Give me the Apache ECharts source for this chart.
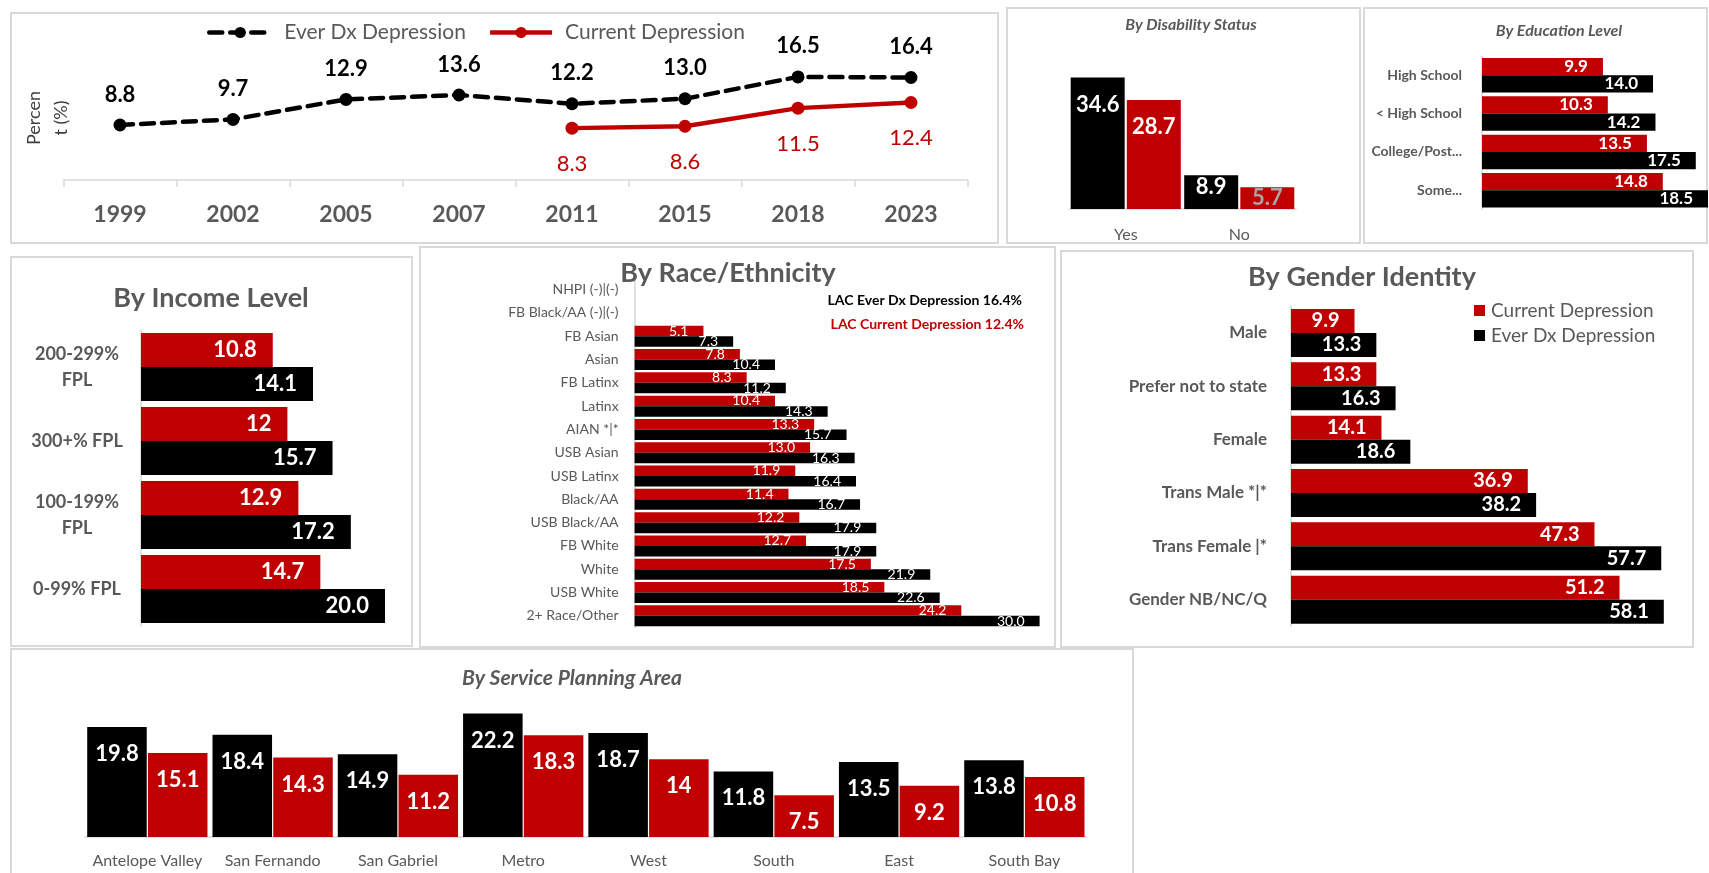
<!DOCTYPE html>
<html>
<head>
<meta charset="utf-8">
<title>Depression Dashboard</title>
<script src="https://cdn.jsdelivr.net/npm/echarts@6/dist/echarts.min.js"></script>
<style>
  html, body { margin: 0; padding: 0; background: #ffffff; }
  #chart { width: 1709px; height: 873px; }
</style>
</head>
<body>
<div id="chart"></div>
<script>
// ---- Data ----
const years = ['1999', '2002', '2005', '2007', '2011', '2015', '2018', '2023'];
const trendEverDx = [8.8, 9.7, 12.9, 13.6, 12.2, 13.0, 16.5, 16.4];
const trendCurrent = [null, null, null, null, 8.3, 8.6, 11.5, 12.4];

const disabilityCats = ['Yes', 'No'];
const disabilityEverDx = [34.6, 8.9];
const disabilityCurrent = [28.7, 5.7];

const educationCats = ['High School', '< High School', 'College/Post...', 'Some...'];
const educationCurrent = [9.9, 10.3, 13.5, 14.8];
const educationEverDx = [14.0, 14.2, 17.5, 18.5];

const incomeCats = ['200-299%\nFPL', '300+% FPL', '100-199%\nFPL', '0-99% FPL'];
const incomeCurrent = [10.8, 12, 12.9, 14.7];
const incomeEverDx = [14.1, 15.7, 17.2, 20.0];

const raceCats = ['NHPI (-)|(-)', 'FB Black/AA (-)|(-)', 'FB Asian', 'Asian', 'FB Latinx', 'Latinx',
  'AIAN *|*', 'USB Asian', 'USB Latinx', 'Black/AA', 'USB Black/AA', 'FB White', 'White',
  'USB White', '2+ Race/Other'];
const raceCurrent = [null, null, 5.1, 7.8, 8.3, 10.4, 13.3, 13.0, 11.9, 11.4, 12.2, 12.7, 17.5, 18.5, 24.2];
const raceEverDx = [null, null, 7.3, 10.4, 11.2, 14.3, 15.7, 16.3, 16.4, 16.7, 17.9, 17.9, 21.9, 22.6, 30.0];

const genderCats = ['Male', 'Prefer not to state', 'Female', 'Trans Male *|*', 'Trans Female |*', 'Gender NB/NC/Q'];
const genderCurrent = [9.9, 13.3, 14.1, 36.9, 47.3, 51.2];
const genderEverDx = [13.3, 16.3, 18.6, 38.2, 57.7, 58.1];

const spaCats = ['Antelope Valley', 'San Fernando', 'San Gabriel', 'Metro', 'West', 'South', 'East', 'South Bay'];
const spaEverDx = [19.8, 18.4, 14.9, 22.2, 18.7, 11.8, 13.5, 13.8];
const spaCurrent = [15.1, 14.3, 11.2, 18.3, 14, 7.5, 9.2, 10.8];

// ---- Styling ----
const RED = '#C00000';
const BLACK = '#000000';
const GRAY_TEXT = '#595959';
const AXIS_GRAY = '#d9d9d9';
const FONT = 'Lato';
const EVER = 'Ever Dx Depression';
const CURR = 'Current Depression';
const EVER_DASH = [13, 8];

const fixed1 = p => Number(p.value).toFixed(1);
const raw = p => String(p.value);

const chart = echarts.init(document.getElementById('chart'), null, { renderer: 'canvas' });

function hiddenValueAxis(gridIndex, max) {
  return { type: 'value', gridIndex, min: 0, max, show: false, splitLine: { show: false } };
}
function barCategoryAxis(gridIndex, data, extra) {
  return Object.assign({
    type: 'category', gridIndex, data,
    axisLine: { show: true, lineStyle: { color: AXIS_GRAY, width: 1.5 } },
    axisTick: { show: false },
    splitLine: { show: false }
  }, extra);
}
function hBar(name, color, xi, data, labelFont, fmt, distance, extra) {
  return Object.assign({
    type: 'bar', name, xAxisIndex: xi, yAxisIndex: xi, data,
    itemStyle: { color },
    label: {
      show: true, position: 'insideRight', distance, color: '#ffffff',
      fontFamily: FONT, fontSize: labelFont.size, fontWeight: labelFont.weight, formatter: fmt
    }
  }, extra);
}

// panel frames
const panels = [
  [11, 13, 987, 230], [1007, 8, 353, 235], [1364, 8, 343, 235],
  [11, 257, 401, 389], [420, 247, 635, 400], [1061, 251, 632, 396], [11, 649, 1122, 240]
];
const graphics = panels.map(p => ({
  type: 'rect', z: 0, silent: true,
  shape: { x: p[0], y: p[1], width: p[2], height: p[3] },
  style: { fill: 'none', stroke: AXIS_GRAY, lineWidth: 2 }
}));

function label(text, x, y, font, fill, align, rotation) {
  return {
    type: 'text', x, y, rotation: rotation || 0, z: 10, silent: true,
    style: {
      text, x: 0, y: 0, font, fill,
      align: align || 'center', textAlign: align || 'center',
      verticalAlign: 'middle', textVerticalAlign: 'middle', lineHeight: 27
    }
  };
}
graphics.push(
  label('Percen\nt (%)', 48, 118, '18px Lato', '#404040', 'center', Math.PI / 2),
  label('By Disability Status', 1191, 25, 'italic bold 16px Lato', GRAY_TEXT),
  label('By Education Level', 1559, 31, 'italic bold 16px Lato', GRAY_TEXT),
  label('By Income Level', 211, 298, 'bold 27px Lato', GRAY_TEXT),
  label('By Race/Ethnicity', 728, 273, 'bold 27px Lato', GRAY_TEXT),
  label('By Gender Identity', 1362, 277, 'bold 27px Lato', GRAY_TEXT),
  label('By Service Planning Area', 572, 678, 'italic bold 21px Lato', GRAY_TEXT),
  label('LAC Ever Dx Depression ' + trendEverDx[trendEverDx.length - 1].toFixed(1) + '%',
    1022, 300, 'bold 14px Lato', BLACK, 'right'),
  label('LAC Current Depression ' + trendCurrent[trendCurrent.length - 1].toFixed(1) + '%',
    1024, 324, 'bold 14px Lato', RED, 'right')
);

const disabilityLabelDistance = [16, 1];

const option = {
  animation: false,
  backgroundColor: '#ffffff',
  textStyle: { fontFamily: FONT },
  graphic: graphics,
  legend: [
    {
      data: [
        { name: EVER, lineStyle: { width: 4.5, type: EVER_DASH, color: BLACK } },
        { name: CURR, lineStyle: { width: 4.5, color: RED } }
      ],
      left: 207, top: 22, padding: 0, itemWidth: 62, itemHeight: 14, itemGap: 22,
      selectedMode: false,
      textStyle: { fontSize: 21, color: GRAY_TEXT, fontFamily: FONT, padding: [0, 0, 0, 8] }
    },
    {
      data: [CURR, EVER], left: 1474, top: 301, padding: 0, orient: 'vertical', icon: 'rect',
      itemWidth: 11, itemHeight: 11, itemGap: 6, selectedMode: false,
      textStyle: { fontSize: 19, color: GRAY_TEXT, fontFamily: FONT, padding: [0, 0, 0, 1] }
    }
  ],
  grid: [
    { left: 63.5, right: 741.5, top: 55, bottom: 693 },     // trend
    { left: 1069, right: 413, top: 57, bottom: 664 },       // disability
    { left: 1482, right: 1, top: 56, bottom: 663.5 },       // education
    { left: 141, right: 1299.6, top: 330, bottom: 247 },    // income
    { left: 634.6, right: 669.4, top: 278, bottom: 245.5 }, // race
    { left: 1291, right: 33, top: 306.3, bottom: 246.7 },   // gender
    { left: 84.7, right: 622, top: 698, bottom: 36 }        // service planning area
  ],
  xAxis: [
    {
      type: 'category', gridIndex: 0, data: years, boundaryGap: true,
      axisLine: { show: true, lineStyle: { color: AXIS_GRAY, width: 1.5 } },
      axisTick: { show: true, length: 7, lineStyle: { color: AXIS_GRAY, width: 1.5 } },
      axisLabel: { color: GRAY_TEXT, fontSize: 23, fontWeight: 'bold', margin: 23, fontFamily: FONT }
    },
    barCategoryAxis(1, disabilityCats, {
      axisLabel: { color: GRAY_TEXT, fontSize: 16, margin: 18, fontFamily: FONT }
    }),
    hiddenValueAxis(2, 18.5),
    hiddenValueAxis(3, 22),
    hiddenValueAxis(4, 30),
    hiddenValueAxis(5, 60),
    barCategoryAxis(6, spaCats, {
      axisLabel: { color: GRAY_TEXT, fontSize: 16, margin: 16, interval: 0, fontFamily: FONT }
    })
  ],
  yAxis: [
    hiddenValueAxis(0, 20),
    hiddenValueAxis(1, 40),
    barCategoryAxis(2, educationCats, {
      inverse: true,
      axisLabel: { color: GRAY_TEXT, fontSize: 14, fontWeight: 'bold', margin: 20, interval: 0, fontFamily: FONT }
    }),
    barCategoryAxis(3, incomeCats, {
      inverse: true,
      axisLabel: { color: GRAY_TEXT, fontSize: 18, fontWeight: 'bold', margin: 64, align: 'center',
        interval: 0, lineHeight: 26, fontFamily: FONT }
    }),
    barCategoryAxis(4, raceCats, {
      inverse: true,
      axisLabel: { color: GRAY_TEXT, fontSize: 14, margin: 16, interval: 0, fontFamily: FONT }
    }),
    barCategoryAxis(5, genderCats, {
      inverse: true,
      axisLabel: { color: GRAY_TEXT, fontSize: 17, fontWeight: 'bold', margin: 24, interval: 0, fontFamily: FONT }
    }),
    hiddenValueAxis(6, 25)
  ],
  series: [
    // trend over survey years
    {
      type: 'line', name: EVER, xAxisIndex: 0, yAxisIndex: 0, data: trendEverDx,
      symbol: 'circle', symbolSize: 13, z: 5,
      itemStyle: { color: BLACK },
      lineStyle: { color: BLACK, width: 4.5, type: EVER_DASH, cap: 'round' },
      label: { show: true, position: 'top', distance: 13, color: BLACK, fontSize: 22,
        fontWeight: 'bold', fontFamily: FONT, formatter: fixed1 }
    },
    {
      type: 'line', name: CURR, xAxisIndex: 0, yAxisIndex: 0, data: trendCurrent,
      symbol: 'circle', symbolSize: 13, z: 5,
      itemStyle: { color: RED },
      lineStyle: { color: RED, width: 4.5 },
      label: { show: true, position: 'bottom', distance: 18, color: RED, fontSize: 22,
        fontFamily: FONT, formatter: fixed1 }
    },
    // disability status
    {
      type: 'bar', name: EVER, xAxisIndex: 1, yAxisIndex: 1, barCategoryGap: '3%', barGap: '4%',
      itemStyle: { color: BLACK },
      data: disabilityEverDx.map((v, i) => ({ value: v, label: { distance: disabilityLabelDistance[i] } })),
      label: { show: true, position: 'insideTop', color: '#ffffff', fontSize: 22, fontWeight: 'bold',
        fontFamily: FONT, formatter: fixed1 }
    },
    {
      type: 'bar', name: CURR, xAxisIndex: 1, yAxisIndex: 1, barCategoryGap: '3%', barGap: '4%',
      itemStyle: { color: RED },
      data: disabilityCurrent.map((v, i) => ({
        value: v,
        label: i === 1 ? { distance: 0, color: '#a6a6a6' } : { distance: disabilityLabelDistance[i] }
      })),
      label: { show: true, position: 'insideTop', color: '#ffffff', fontSize: 22, fontWeight: 'bold',
        fontFamily: FONT, formatter: fixed1 }
    },
    // education level
    hBar(CURR, RED, 2, educationCurrent, { size: 17, weight: 'bold' }, fixed1, 15,
      { barCategoryGap: '10%', barGap: '0%' }),
    hBar(EVER, BLACK, 2, educationEverDx, { size: 17, weight: 'bold' }, fixed1, 15,
      { barCategoryGap: '10%', barGap: '0%' }),
    // income level
    hBar(CURR, RED, 3, incomeCurrent, { size: 22, weight: 'bold' }, raw, 16,
      { barCategoryGap: '8%', barGap: '0%' }),
    hBar(EVER, BLACK, 3, incomeEverDx, { size: 22, weight: 'bold' }, fixed1, 16,
      { barCategoryGap: '8%', barGap: '0%' }),
    // race / ethnicity
    hBar(CURR, RED, 4, raceCurrent, { size: 14, weight: 'normal' }, fixed1, 15,
      { barCategoryGap: '10%', barGap: '0%' }),
    hBar(EVER, BLACK, 4, raceEverDx, { size: 14, weight: 'normal' }, fixed1, 15,
      { barCategoryGap: '10%', barGap: '0%' }),
    // gender identity
    hBar(CURR, RED, 5, genderCurrent, { size: 20, weight: 'bold' }, fixed1, 15,
      { barCategoryGap: '10%', barGap: '0%' }),
    hBar(EVER, BLACK, 5, genderEverDx, { size: 20, weight: 'bold' }, fixed1, 15,
      { barCategoryGap: '10%', barGap: '0%' }),
    // service planning area
    {
      type: 'bar', name: EVER, xAxisIndex: 6, yAxisIndex: 6, data: spaEverDx,
      barCategoryGap: '4%', barGap: '2%', itemStyle: { color: BLACK },
      label: { show: true, position: 'insideTop', distance: 16, color: '#ffffff', fontSize: 22,
        fontWeight: 'bold', fontFamily: FONT, formatter: fixed1 }
    },
    {
      type: 'bar', name: CURR, xAxisIndex: 6, yAxisIndex: 6, data: spaCurrent,
      barCategoryGap: '4%', barGap: '2%', itemStyle: { color: RED },
      label: { show: true, position: 'insideTop', distance: 16, color: '#ffffff', fontSize: 22,
        fontWeight: 'bold', fontFamily: FONT, formatter: raw }
    }
  ]
};

chart.setOption(option);
</script>
</body>
</html>
